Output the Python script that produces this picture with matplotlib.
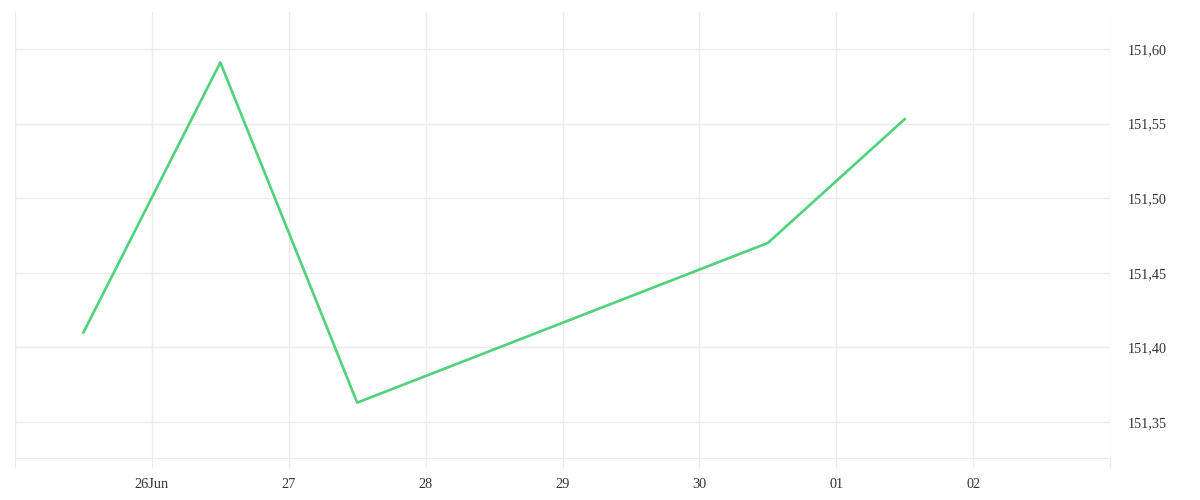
import matplotlib
matplotlib.use("Agg")
import matplotlib.pyplot as plt
import numpy as np

# data: daily values (plotted at midday), weekend skipped
dates = np.array(["2024-06-25T12:00", "2024-06-26T12:00", "2024-06-27T12:00",
                  "2024-06-30T12:00", "2024-07-01T12:00"], dtype="datetime64[m]")
values = [151.41, 151.591, 151.363, 151.47, 151.553]

tick_days = np.arange(np.datetime64("2024-06-25"), np.datetime64("2024-07-04"))
tick_labels = ["", "26Jun", "27", "28", "29", "30", "01", "02", ""]
y_ticks = [151.35, 151.40, 151.45, 151.50, 151.55, 151.60]

plt.rcParams["font.family"] = ["Liberation Serif", "DejaVu Serif"]

fig = plt.figure(figsize=(12, 5), dpi=100)
ax = fig.add_axes([15 / 1200, 42 / 500, 1095 / 1200, 446 / 500])

ax.plot(dates.astype("datetime64[ms]").astype(object), values, color="#4ed27a", lw=1.9)

ax.set_xlim(tick_days[0].astype(object), tick_days[-1].astype(object))
ax.set_ylim(151.3259, 151.6248)

ax.set_xticks([d.astype(object) for d in tick_days])
ax.set_xticklabels(tick_labels)
ax.set_yticks(y_ticks)
ax.set_yticklabels([f"{v:.2f}".replace(".", ",") for v in y_ticks])

ax.yaxis.tick_right()
ax.grid(True, color="#ebebeb", lw=1)
ax.set_axisbelow(True)
for s in ["top", "left", "right"]:
    ax.spines[s].set_visible(False)
ax.spines["bottom"].set_color("#ebebeb")

ax.tick_params(axis="x", length=7.5, color="#ebebeb", pad=7, labelsize=10.3, labelcolor="#333333")
ax.tick_params(axis="y", length=0, pad=12.5, labelsize=10.3, labelcolor="#333333")

fig.savefig("out.png", dpi=100, facecolor="white")
